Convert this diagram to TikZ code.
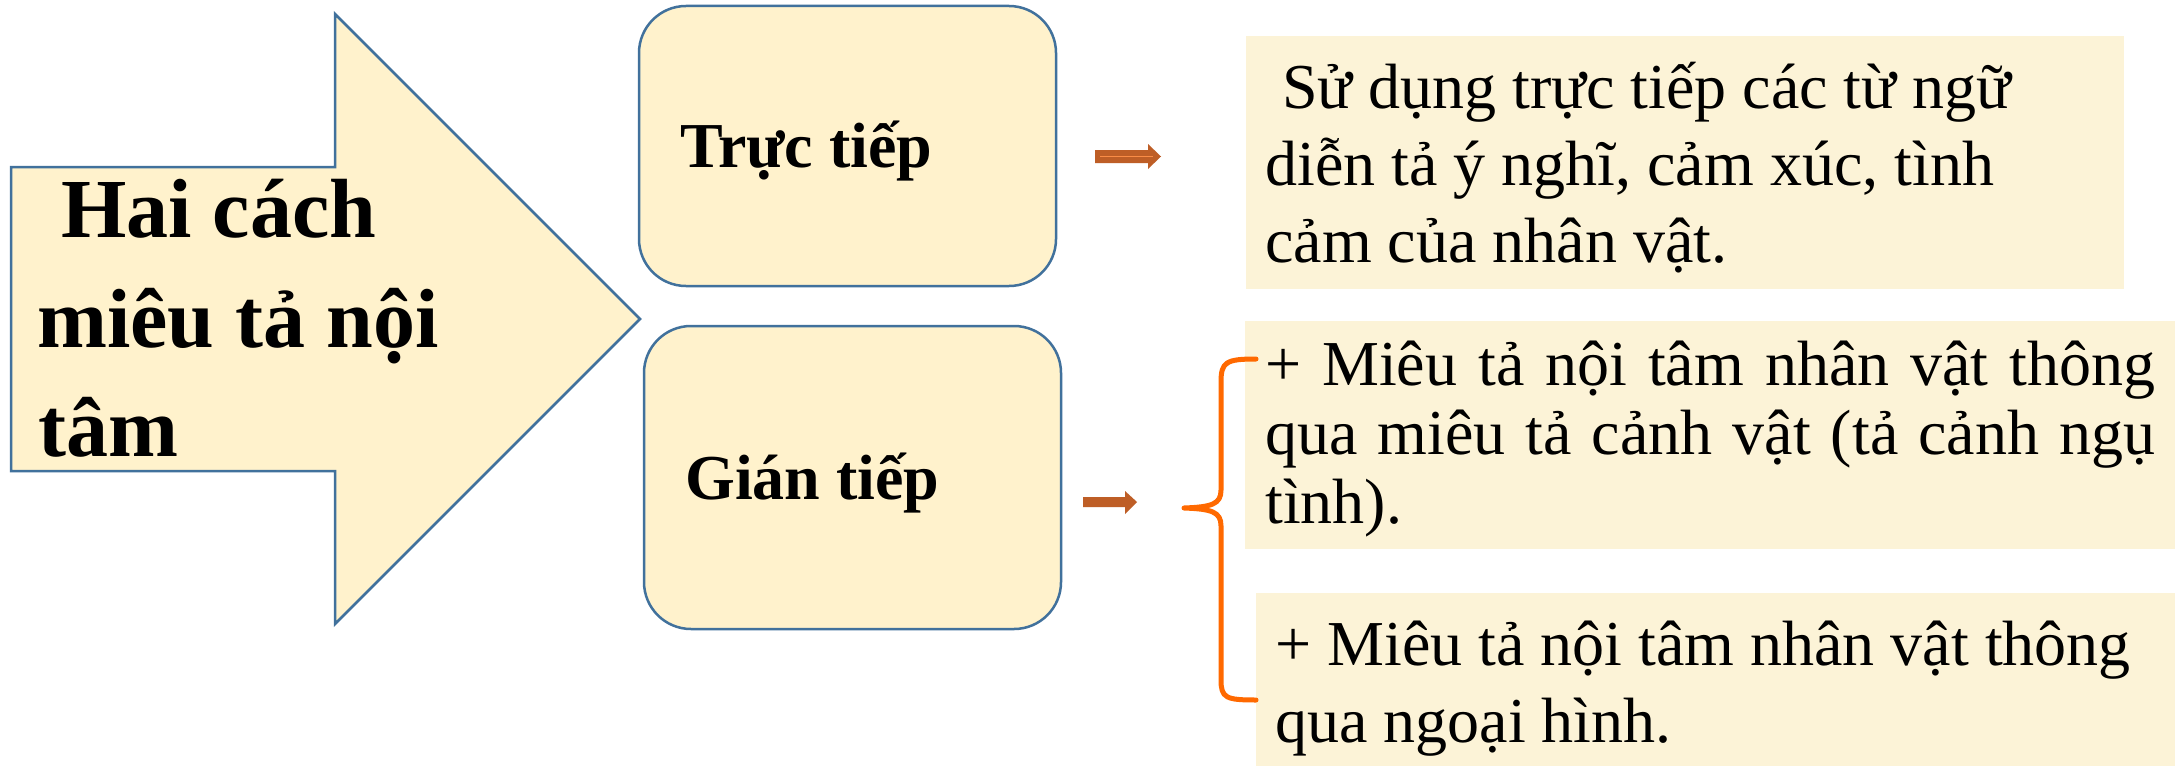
\documentclass[tikz,border=0pt]{standalone}
\usepackage{fontspec}
\setmainfont{Liberation Serif}
\definecolor{cream}{RGB}{255,242,204}
\definecolor{paper}{RGB}{252,243,215}
\definecolor{edge}{RGB}{65,113,156}
\definecolor{rust}{RGB}{190,94,38}
\definecolor{rustlight}{RGB}{250,140,70}
\definecolor{bracecol}{RGB}{255,105,0}
\tikzset{
  bigtext/.style={font=\fontsize{84bp}{100bp}\selectfont\bfseries, anchor=base west, inner sep=0pt},
  labtext/.style={font=\fontsize{64bp}{77bp}\selectfont\bfseries, anchor=base west, inner sep=0pt},
  bodytext/.style={font=\fontsize{64bp}{77bp}\selectfont, anchor=base west, inner sep=0pt},
  rbox/.style={draw=edge, line width=2.5bp, fill=cream, rounded corners=47bp, inner sep=0pt},
  pbox/.style={fill=paper, inner sep=0pt},
  blockarrow/.style={fill=rust},
}
\begin{document}
\begin{tikzpicture}[x=1bp,y=-1bp]
\useasboundingbox (0,0) rectangle (2175,766);
\fill[white] (0,0) rectangle (2175,766);

% big block arrow
\draw[edge, line width=2.5bp, fill=cream, line join=miter]
  (11,167) -- (335,167) -- (335,14) -- (640,319) -- (335,624) -- (335,471) -- (11,471) -- cycle;
\node[bigtext] (h1) at (61,237) {Hai cách};
\node[bigtext] (h2) at (37,347) {miêu tả nội};
\node[bigtext] (h3) at (38,456) {tâm};

% rounded boxes
\node[rbox, minimum width=417bp, minimum height=280bp] (direct) at (847.5,146) {};
\node[labtext] (directlab) at (680,167) {Trực tiếp};
\node[rbox, minimum width=417bp, minimum height=303bp] (indirect) at (852.5,477.5) {};
\node[labtext] (indirectlab) at (685,499) {Gián tiếp};

% small block arrows
\fill[blockarrow] (1095,150) -- (1148,150) -- (1148,144) -- (1161,156.5) -- (1148,169) -- (1148,163) -- (1095,163) -- cycle;
\draw[rustlight, line width=1bp] (1100,156.5) -- (1153,156.5);
\fill[blockarrow] (1083,497) -- (1125,497) -- (1125,491) -- (1137,502) -- (1125,514) -- (1125,507) -- (1083,507) -- cycle;

% text boxes
\node[pbox, minimum width=878bp, minimum height=253bp] (b1) at (1685,162.5) {};
\node[pbox, minimum width=930bp, minimum height=228bp] (b2) at (1710,435) {};
\node[pbox, minimum width=919bp, minimum height=173bp] (b3) at (1715.5,679.5) {};

\node[bodytext] (b1a) at (1282,108) {Sử dụng trực tiếp các từ ngữ};
\node[bodytext] (b1b) at (1265,185) {diễn tả ý nghĩ, cảm xúc, tình};
\node[bodytext] (b1c) at (1265,262) {cảm của nhân vật.};

\node[bodytext] (b2a) at (1265,385) {\makebox[890bp][s]{+ Miêu tả nội tâm nhân vật thông}};
\node[bodytext] (b2b) at (1265,454) {\makebox[890bp][s]{qua miêu tả cảnh vật (tả cảnh ngụ}};
\node[bodytext] (b2c) at (1265,523) {tình).};

\node[bodytext] (b3a) at (1275,665) {+ Miêu tả nội tâm nhân vật thông};
\node[bodytext] (b3b) at (1275,742) {qua ngoại hình.};

% brace
\draw[bracecol, line width=5bp, line cap=round, line join=round]
  (1256,359) .. controls (1226,359) and (1221,362) .. (1221,382)
  -- (1221,490) .. controls (1221,504) and (1212,507) .. (1184,508)
  .. controls (1212,509) and (1221,512) .. (1221,526)
  -- (1221,680) .. controls (1221,698) and (1226,700) .. (1256,700);
\end{tikzpicture}
\end{document}
